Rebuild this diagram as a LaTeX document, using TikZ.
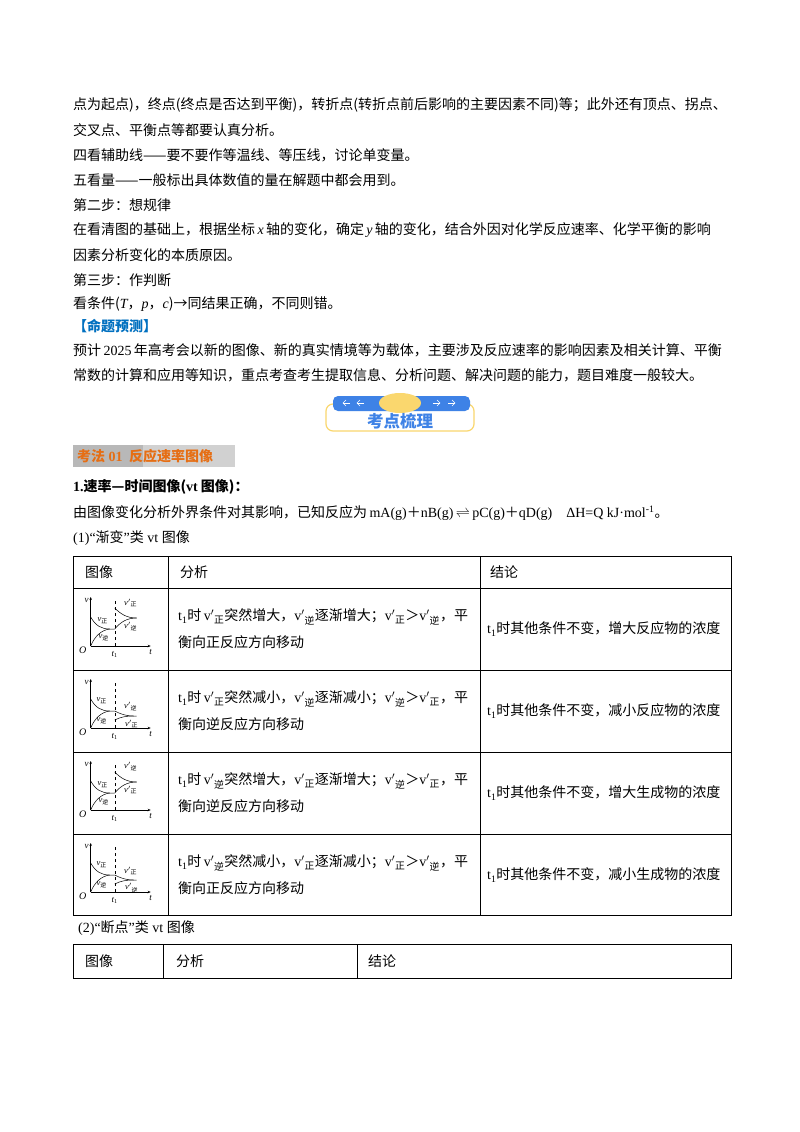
\documentclass[tikz,border=0pt]{standalone}
\usepackage{fontspec}
\setmainfont{Noto Sans CJK SC}
\newfontfamily\ser{Liberation Serif}
\usetikzlibrary{arrows.meta}
\definecolor{ttblue}{RGB}{0,112,192}
\definecolor{bannerblue}{RGB}{62,130,230}
\definecolor{banneryel}{RGB}{250,215,110}
\definecolor{headorange}{RGB}{230,110,20}
\tikzset{
 txt/.style={anchor=west,inner sep=0pt,font=\fontsize{14}{17}\selectfont},
 cell/.style={anchor=west,inner sep=0pt,font=\fontsize{14}{17}\selectfont},
 lbl/.style={inner sep=0pt,font=\fontsize{8.5}{9}\selectfont},
 ax/.style={line width=0.6pt,-{Stealth[length=3pt,width=2.5pt]}},
 crv/.style={line width=0.5pt},
 grid/.style={line width=0.8pt}
}
\newcommand{\vv}[1]{{\ser\itshape v}\textsubscript{#1}}
\newcommand{\vp}[1]{{\ser\itshape v}$'$\textsubscript{#1}}
\newcommand{\tone}{{\ser t\textsubscript{1}}}
\begin{document}
\begin{tikzpicture}[x=1pt,y=-1pt]
\useasboundingbox[fill=white] (0,0) rectangle (800,1132);
% body text
\node[txt] (l1) at (73,105) {点为起点)，终点(终点是否达到平衡)，转折点(转折点前后影响的主要因素不同)等；此外还有顶点、拐点、};
\node[txt] (l2) at (73,130) {交叉点、平衡点等都要认真分析。};
\node[txt] (l3) at (73,155) {四看辅助线——要不要作等温线、等压线，讨论单变量。};
\node[txt] (l4) at (73,180) {五看量——一般标出具体数值的量在解题中都会用到。};
\node[txt] (l5) at (73,205) {第二步：想规律};
\node[txt] (l6) at (73,230) {在看清图的基础上，根据坐标\,{\ser\itshape x}\,轴的变化，确定\,{\ser\itshape y}\,轴的变化，结合外因对化学反应速率、化学平衡的影响};
\node[txt] (l7) at (73,255) {因素分析变化的本质原因。};
\node[txt] (l8) at (73,280) {第三步：作判断};
\node[txt] (l9) at (73,304) {看条件({\ser\itshape T}，{\ser\itshape p}，{\ser\itshape c})→同结果正确，不同则错。};
\node[txt,text=ttblue,font=\fontsize{14}{17}\selectfont\bfseries] (l10) at (73,326) {【命题预测】};
\node[txt] (l11) at (73,350) {预计\,{\ser 2025}\,年高考会以新的图像、新的真实情境等为载体，主要涉及反应速率的影响因素及相关计算、平衡};
\node[txt] (l12) at (73,375) {常数的计算和应用等知识，重点考查考生提取信息、分析问题、解决问题的能力，题目难度一般较大。};
% banner
\draw[banneryel,line width=1.2pt,fill=white,rounded corners=7pt] (326,404) rectangle (474,431);
\fill[bannerblue,rounded corners=5pt] (333,396) rectangle (470,411);
\fill[banneryel] (400,403) ellipse (21 and 10);
\foreach \xx in {346,360}{\draw[white,line width=0.6pt] (\xx+4,403)--(\xx-3,403); \draw[white,line width=0.6pt] (\xx,400)--(\xx-3,403)--(\xx,406);}
\foreach \xx in {437,452}{\draw[white,line width=0.6pt] (\xx-4,403)--(\xx+3,403); \draw[white,line width=0.6pt] (\xx,400)--(\xx+3,403)--(\xx,406);}
\node[inner sep=0pt,text=bannerblue,font=\fontsize{16.5}{18}\selectfont\bfseries] (bt) at (400,421) {考点梳理};
% heading
\fill[black!18] (73,445) rectangle (235,467);
\fill[black!28] (73,445) rectangle (143,467);
\node[txt,text=headorange,font=\fontsize{14}{17}\selectfont\bfseries] (hd) at (77,456) {考法{\ser\bfseries\ 01}\ \ 反应速率图像};
\node[txt,font=\fontsize{14}{17}\selectfont\bfseries] (s1) at (73,487) {{\ser\bfseries 1.}速率—时间图像({\ser\bfseries vt} 图像)：};
\node[txt] (s2) at (73,513) {由图像变化分析外界条件对其影响，已知反应为\,{\ser mA(g)}＋{\ser nB(g)}\,$\rightleftharpoons$\,{\ser pC(g)}＋{\ser qD(g)}\quad{\ser ΔH=Q kJ·mol\textsuperscript{-1}}。};
\node[txt] (s3) at (73,538) {{\ser (1)“}渐变{\ser ”}类{\ser\ vt }图像};
% table 1
\draw[grid] (73,556) rectangle (731,915);
\foreach \yy in {588,670,752,834}{\draw[grid] (73,\yy)--(731,\yy);}
\foreach \xx in {168,480}{\draw[grid] (\xx,556)--(\xx,915);}
\node[cell] (h1) at (85,572) {图像};
\node[cell] (h2) at (180,572) {分析};
\node[cell] (h3) at (490,572) {结论};
\foreach \r/\a/\b/\bb/\c/\dd/\e/\dir/\con in {
 0/增大/正/逆/增大/正/逆/正/增大反应物的浓度,
 1/减小/正/逆/减小/逆/正/逆/减小反应物的浓度,
 2/增大/逆/正/增大/逆/正/逆/增大生成物的浓度,
 3/减小/逆/正/减小/正/逆/正/减小生成物的浓度}{
 \pgfmathsetmacro{\ry}{588+82*\r}
 \node[cell] at (178,\ry+29) {\tone 时\,{\ser v$'$}\textsubscript{\b}突然\a，{\ser v$'$}\textsubscript{\bb}逐渐\c；{\ser v$'$}\textsubscript{\dd}＞{\ser v$'$}\textsubscript{\e}，平};
 \node[cell] at (178,\ry+54) {衡向\dir 反应方向移动};
 \node[cell] at (487,\ry+41) {\tone 时其他条件不变，\con};
}
% small graphs
\foreach \r in {0,1,2,3}{
\begin{scope}[shift={(90.7,646+82*\r)}]
 \draw[ax] (0,0)--(0,-49);
 \draw[ax] (0,0)--(60,0);
 \draw[dashed,line width=0.4pt] (24,0)--(24,-47);
 \node[lbl,font=\fontsize{9}{9}\selectfont\ser\itshape] at (-4,-46) {v};
 \node[lbl,font=\fontsize{10}{10}\selectfont\ser\itshape] at (-8,4) {O};
 \node[lbl,font=\fontsize{9}{9}\selectfont\ser\itshape] at (24,8) {t\textsubscript{\upshape 1}};
 \node[lbl,font=\fontsize{9}{9}\selectfont\ser\itshape] at (60,6) {t};
 \draw[crv] (0,-29) .. controls (5,-20) and (11,-17) .. (19,-17) -- (24,-17);
 \draw[crv] (0,0) .. controls (4,-10) and (11,-16) .. (19,-17);
\end{scope}}
% after t1
\begin{scope}[shift={(90.7,646)}]
 \draw[crv] (24,-38) .. controls (30,-32) and (36,-28) .. (46,-28);
 \draw[crv] (24,-17) .. controls (30,-24) and (36,-28) .. (46,-28);
 \node[lbl] at (12,-25) {\vv{正}}; \node[lbl] at (13,-8) {\vv{逆}};
 \node[lbl] at (40,-43) {\vp{正}}; \node[lbl] at (40,-19) {\vp{逆}};
\end{scope}
\begin{scope}[shift={(90.7,728)}]
 \draw[crv] (24,-17) .. controls (30,-14) and (35,-12) .. (43,-12) -- (46,-12);
 \draw[crv] (24,-8) .. controls (30,-11) and (35,-12) .. (43,-12);
 \node[lbl] at (11,-27) {\vv{正}}; \node[lbl] at (11,-7) {\vv{逆}};
 \node[lbl] at (40,-21) {\vp{逆}}; \node[lbl] at (41,-4) {\vp{正}};
\end{scope}
\begin{scope}[shift={(90.7,810)}]
 \draw[crv] (24,-38) .. controls (30,-32) and (36,-28) .. (46,-28);
 \draw[crv] (24,-17) .. controls (30,-24) and (36,-28) .. (46,-28);
 \node[lbl] at (12,-25) {\vv{正}}; \node[lbl] at (13,-8) {\vv{逆}};
 \node[lbl] at (40,-43) {\vp{逆}}; \node[lbl] at (40,-20) {\vp{正}};
\end{scope}
\begin{scope}[shift={(90.7,892)}]
 \draw[crv] (24,-17) .. controls (30,-14) and (35,-12) .. (43,-12) -- (46,-12);
 \draw[crv] (24,-8) .. controls (30,-11) and (35,-12) .. (43,-12);
 \node[lbl] at (11,-27) {\vv{正}}; \node[lbl] at (11,-7) {\vv{逆}};
 \node[lbl] at (40,-21) {\vp{正}}; \node[lbl] at (41,-4) {\vp{逆}};
\end{scope}
\node[txt] (s4) at (78,928) {{\ser (2)“}断点{\ser ”}类{\ser\ vt }图像};
% table 2
\draw[grid] (73,944) rectangle (731,978);
\draw[grid] (163,944)--(163,978);
\draw[grid] (357,944)--(357,978);
\node[cell] (k1) at (85,961) {图像};
\node[cell] (k2) at (176,961) {分析};
\node[cell] (k3) at (368,961) {结论};
\end{tikzpicture}
\end{document}
